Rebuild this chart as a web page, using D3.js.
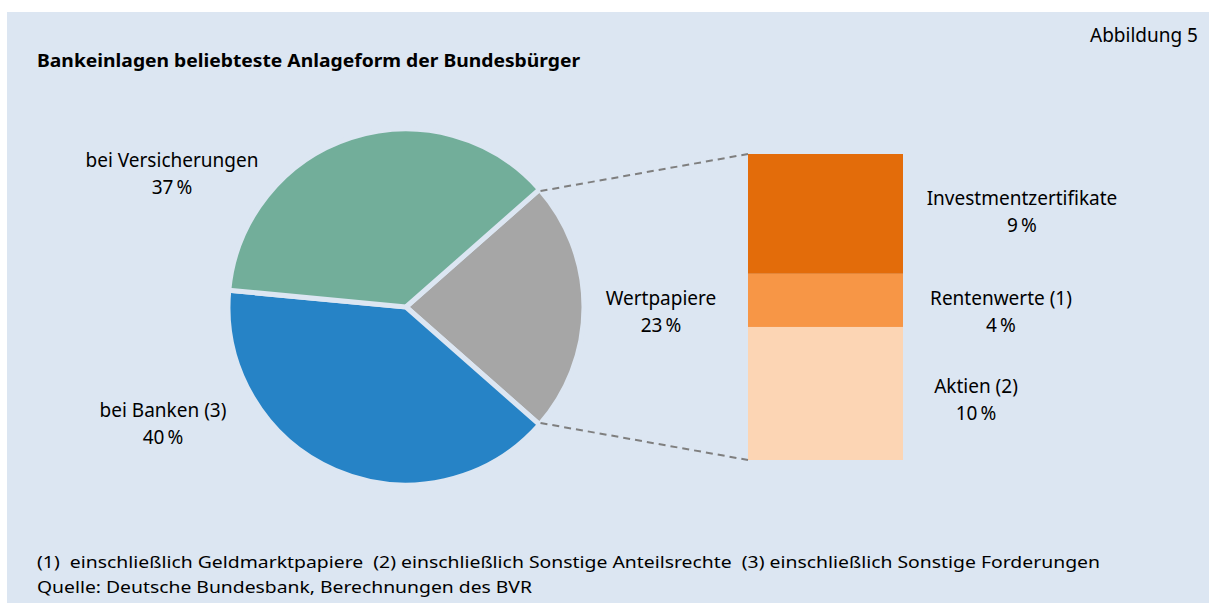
<!DOCTYPE html>
<html>
<head>
<meta charset="utf-8">
<script src="https://cdn.jsdelivr.net/npm/d3@7"></script>
<style>
  body { margin: 0; background: #fff; }
  text { font-family: "Noto Sans", "Open Sans", sans-serif; fill: #000; white-space: pre; }
</style>
</head>
<body>
<div id="chart"></div>
<script>
/* Pie with exploded bar: Anlageformen der Bundesbürger */

// pie slices (percent of total)
const pieNames = ["Wertpapiere", "bei Banken (3)", "bei Versicherungen"];
const pieValues = [23, 40, 37];
const pieColors = ["#a6a6a6", "#2683c6", "#72ae9a"];

// breakdown of Wertpapiere, bottom to top
const barNames = ["Aktien (2)", "Rentenwerte (1)", "Investmentzertifikate"];
const barValues = [10, 4, 9];
const barColors = ["#fcd5b4", "#f79646", "#e36c0a"];

const width = 1209, height = 603;
const bg = "#dce6f2";
const pct = v => v + "\u2009%";

let svg = d3.select("#chart")
    .append("svg")
    .attr("width", width)
    .attr("height", height);

svg.append("rect")
    .attr("x", 7).attr("y", 12)
    .attr("width", width - 7).attr("height", height - 12)
    .attr("fill", bg);

// title + figure number
svg.append("text")
    .attr("x", 37).attr("y", 67)
    .attr("font-size", 18).attr("font-weight", "bold")
    .attr("textLength", 543).attr("lengthAdjust", "spacingAndGlyphs")
    .text("Bankeinlagen beliebteste Anlageform der Bundesbürger");

svg.append("text")
    .attr("x", 1198).attr("y", 42)
    .attr("text-anchor", "end")
    .attr("font-size", 19)
    .text("Abbildung 5");

// ---- pie ----
const cx = 406, cy = 307, r = 178;
const total = d3.sum(pieValues);
// gray slice centred on the right (3 o'clock)
const start = Math.PI / 2 - (pieValues[0] / total) * Math.PI;

const pie = d3.pie()
    .sort(null)
    .value(d => d)
    .startAngle(start)
    .endAngle(start + 2 * Math.PI);

const arcs = pie(pieValues);
const arc = d3.arc().innerRadius(0).outerRadius(r);

const pieG = svg.append("g")
    .attr("transform", `translate(${cx},${cy})`);

pieG.selectAll("path")
    .data(arcs)
    .join("path")
    .attr("d", arc)
    .attr("fill", (d, i) => pieColors[i])
    .attr("stroke", bg)
    .attr("stroke-width", 5)
    .attr("stroke-linejoin", "miter");

// ---- stacked bar ----
const barX = 748, barW = 155;
let y = d3.scaleLinear()
    .domain([0, d3.sum(barValues)])
    .range([460, 154]);

const cum = d3.cumsum(barValues);
const segs = barValues.map((v, i) => ({
    name: barNames[i], value: v, y0: cum[i] - v, y1: cum[i], color: barColors[i]
}));

svg.selectAll(".seg")
    .data(segs)
    .join("rect")
    .attr("class", "seg")
    .attr("x", barX)
    .attr("width", barW)
    .attr("y", d => y(d.y1))
    .attr("height", d => y(d.y0) - y(d.y1))
    .attr("fill", d => d.color);

// connector lines from gray slice corners to bar corners
const gray = arcs[0];
const pt = a => [cx + r * Math.sin(a) * 0.985, cy - r * Math.cos(a) * 0.985];
const p1 = pt(gray.startAngle), p2 = pt(gray.endAngle);
[[p1, [barX, y(d3.sum(barValues))]], [p2, [barX, y(0)]]].forEach(([a, b]) => {
    svg.append("line")
        .attr("x1", a[0] + 3).attr("y1", a[1])
        .attr("x2", b[0]).attr("y2", b[1])
        .attr("stroke", "#7f7f7f")
        .attr("stroke-width", 2)
        .attr("stroke-dasharray", "7,5");
});

// ---- labels ----
const fs = 19;
function label(x, y0, lines) {
    const t = svg.append("text")
        .attr("text-anchor", "middle")
        .attr("font-size", fs);
    lines.forEach((s, i) => {
        t.append("tspan").attr("x", x).attr("y", y0 + i * 27).text(s);
    });
}

label(172, 167, [pieNames[2], pct(pieValues[2])]);
label(163, 417, [pieNames[1], pct(pieValues[1])]);
label(661, 305, [pieNames[0], pct(pieValues[0])]);

label(1022, 205, [barNames[2], pct(barValues[2])]);
label(1001, 305, [barNames[1], pct(barValues[1])]);
label(976, 393, [barNames[0], pct(barValues[0])]);

// footnotes
svg.append("text")
    .attr("x", 37).attr("y", 568)
    .attr("font-size", 17)
    .attr("textLength", 1063).attr("lengthAdjust", "spacingAndGlyphs")
    .text("(1)  einschließlich Geldmarktpapiere  (2) einschließlich Sonstige Anteilsrechte  (3) einschließlich Sonstige Forderungen");

svg.append("text")
    .attr("x", 37).attr("y", 593)
    .attr("font-size", 17)
    .attr("textLength", 495).attr("lengthAdjust", "spacingAndGlyphs")
    .text("Quelle: Deutsche Bundesbank, Berechnungen des BVR");
</script>
</body>
</html>
